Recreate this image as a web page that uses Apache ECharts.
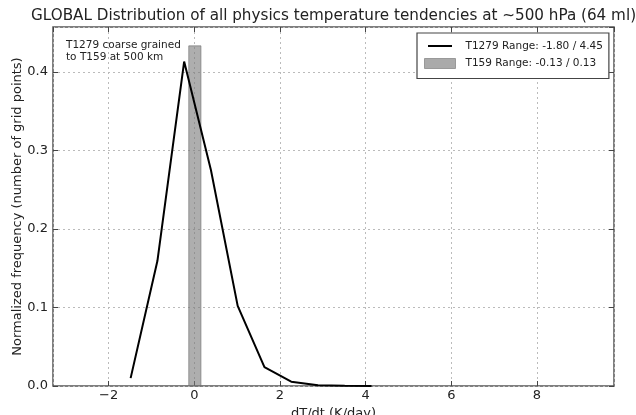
<!DOCTYPE html>
<html><head><meta charset="utf-8">
<script src="https://cdn.jsdelivr.net/npm/echarts@6/dist/echarts.min.js"></script>
<style>html,body{margin:0;padding:0;background:#fff}#c{width:636px;height:415px}</style>
</head><body><div id="c"></div>
<script>
// T1279 histogram line (bin centres, normalized frequency)
const t1279X = [-1.4875, -0.8625, -0.2375, 0.3875, 1.0125, 1.6375, 2.2625, 2.8875, 3.5125, 4.1375];
const t1279Y = [0.010, 0.159, 0.413, 0.275, 0.102, 0.024, 0.0055, 0.001, 0.0003, 0.0001];
// T159 single bar: [left edge, right edge, height]
const t159Bar = [[-0.13, 0.155, 0.433]];
const xTicks = [-2, 0, 2, 4, 6, 8];
const yTicks = [0.0, 0.1, 0.2, 0.3, 0.4];
const legendNames = ['T1279 Range: -1.80 / 4.45', 'T159 Range: -0.13 / 0.13'];
const titleText = 'GLOBAL Distribution of all physics temperature tendencies at ~500 hPa (64 ml)';
const noteText = 'T1279 coarse grained\nto T159 at 500 km';

const FONT = 'DejaVu Sans';
const chart = echarts.init(document.getElementById('c'), null, {renderer: 'canvas'});
const gridDef = {left: 53, right: 22, top: 27, bottom: 29};
const xMin = -3.3, xMax = 9.8, yMin = 0, yMax = 0.457;
const axisCommon = {
  axisLine: {show: false, onZero: false},
  axisTick: {show: true, inside: true, length: 5, lineStyle: {color: '#444', width: 1}},
  splitLine: {show: false}
};
const gridLine = {show: true, lineStyle: {color: '#bbb', type: [2, 3], width: 1}};
chart.setOption({
  animation: false,
  title: {text: titleText, left: 26, top: 4, textStyle: {fontFamily: FONT, fontSize: 15.2, fontWeight: 'normal', color: '#222'}},
  grid: {show: true, ...gridDef, outerBoundsMode: 'none', containLabel: false,
         borderColor: '#555', borderWidth: 1.5, backgroundColor: 'transparent'},
  legend: {
    orient: 'vertical', left: 417, top: 33, itemWidth: 31, itemHeight: 10, itemGap: 4.5,
    padding: [6.5, 6, 8.5, 7],
    borderColor: '#444', borderWidth: 1.2, backgroundColor: '#fff', borderRadius: 0,
    textStyle: {fontFamily: FONT, fontSize: 10.5, color: '#222', lineHeight: 13, padding: [0, 0, 0, 5]},
    data: [
      {name: legendNames[0], icon: 'path://M0,0 M3.5,4 L27.5,4 L27.5,6 L3.5,6 Z M31,10', itemStyle: {color: '#000'}},
      {name: legendNames[1], icon: 'rect', itemStyle: {color: '#aaaaaa', borderColor: '#999', borderWidth: 1}}
    ]
  },
  xAxis: [
    {type: 'value', min: xMin, max: xMax, minInterval: 2, maxInterval: 2, position: 'bottom',
     ...axisCommon, splitLine: gridLine,
     axisLabel: {show: true, showMinLabel: false, showMaxLabel: false, margin: 3, fontFamily: FONT, fontSize: 13, color: '#222',
       formatter: v => (v < 0 ? '\u2212' + Math.abs(v) : String(v))},
     name: 'dT/dt (K/day)', nameLocation: 'middle', nameGap: 21, nameMoveOverlap: false,
     nameTextStyle: {fontFamily: FONT, fontSize: 13, color: '#222'}},
    {type: 'value', min: xMin, max: xMax, minInterval: 2, maxInterval: 2, position: 'top',
     ...axisCommon, axisLabel: {show: false}}
  ],
  yAxis: [
    {type: 'value', min: yMin, max: yMax, interval: 0.1, position: 'left',
     ...axisCommon, splitLine: gridLine,
     axisLabel: {show: true, showMaxLabel: false, margin: 5, fontFamily: FONT, fontSize: 13, color: '#222',
       formatter: v => v.toFixed(1)},
     name: 'Normalized frequency (number of grid points)', nameLocation: 'middle', nameGap: 29, nameMoveOverlap: false,
     nameTextStyle: {fontFamily: FONT, fontSize: 13, color: '#222'}},
    {type: 'value', min: yMin, max: yMax, interval: 0.1, position: 'right',
     ...axisCommon, axisLabel: {show: false}}
  ],
  series: [
    {
      name: legendNames[1], type: 'custom', xAxisIndex: 0, yAxisIndex: 0, z: 1,
      data: t159Bar,
      renderItem: (params, api) => {
        const p0 = api.coord([api.value(0), api.value(2)]);
        const p1 = api.coord([api.value(1), 0]);
        return {type: 'rect', shape: {x: p0[0], y: p0[1], width: p1[0] - p0[0], height: p1[1] - p0[1]},
          style: {fill: 'rgba(120,120,120,0.6)', stroke: 'rgba(110,110,110,0.6)', lineWidth: 1}};
      },
      itemStyle: {color: '#aaaaaa'}
    },
    {
      name: legendNames[0], type: 'line', xAxisIndex: 0, yAxisIndex: 0, z: 3,
      data: t1279X.map((x, i) => [x, t1279Y[i]]),
      showSymbol: false, symbol: 'none',
      lineStyle: {color: '#000', width: 2}, itemStyle: {color: '#000'}
    }
  ],
  graphic: [
    {type: 'text', left: 66, top: 39, z: 10,
     style: {text: noteText, font: '10.5px "DejaVu Sans"', fill: '#222', lineHeight: 12}}
  ]
});
</script></body></html>
